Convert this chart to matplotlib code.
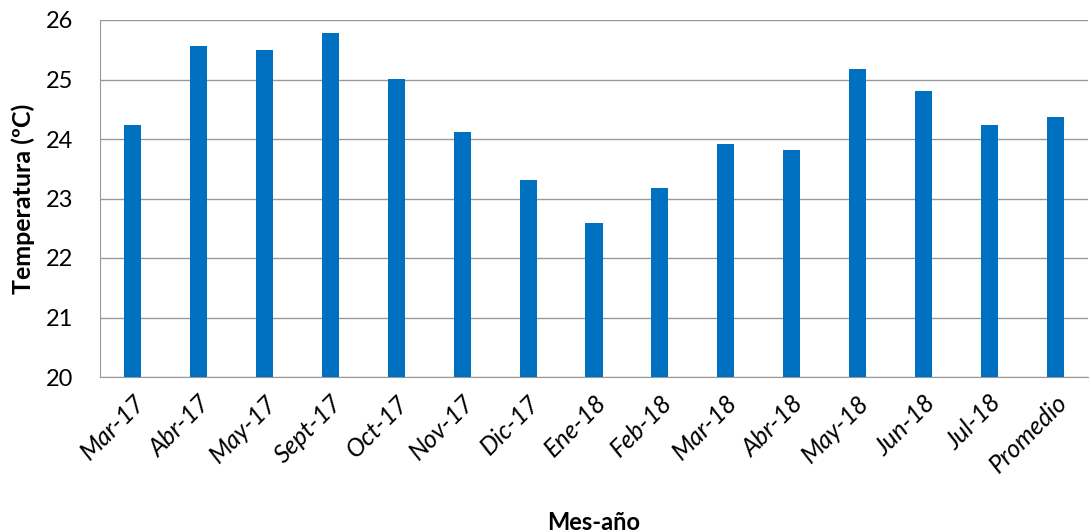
import matplotlib.pyplot as plt

meses = ["Mar-17", "Abr-17", "May-17", "Sept-17", "Oct-17", "Nov-17", "Dic-17",
         "Ene-18", "Feb-18", "Mar-18", "Abr-18", "May-18", "Jun-18", "Jul-18", "Promedio"]
temperatura = [24.24, 25.56, 25.49, 25.78, 25.01, 24.11, 23.31,
               22.58, 23.18, 23.92, 23.82, 25.17, 24.80, 24.24, 24.37]

plt.rcParams['font.family'] = ['Lato', 'DejaVu Sans']

fig = plt.figure(figsize=(10.91, 5.32), dpi=100)
ax = fig.add_axes([100 / 1091, 1 - 377 / 532, 988 / 1091, 357 / 532])

x = range(len(meses))
ax.bar(x, temperatura, width=0.26, color="#0070C0", zorder=3)

ax.set_ylim(20, 26)
ax.set_xlim(-0.5, len(meses) - 0.5)
ax.set_yticks(range(20, 27))
ax.tick_params(axis='y', labelsize=17, length=0, pad=19)
ax.set_xticks(list(x))
ax.set_xticklabels(meses, rotation=45, ha='right', rotation_mode='anchor',
                   fontsize=18, style='italic')
ax.tick_params(axis='x', length=0, pad=10)

ax.grid(axis='y', color='#999999', linewidth=1, zorder=0)
for s in ['top', 'right']:
    ax.spines[s].set_visible(False)
for s in ['left', 'bottom']:
    ax.spines[s].set_color('#999999')

ax.set_ylabel("Temperatura (ºC)", fontsize=18, fontweight='bold', labelpad=8)
ax.set_xlabel("Mes-año", fontsize=17, fontweight='bold', labelpad=24)

fig.savefig("out.png", dpi=100)
